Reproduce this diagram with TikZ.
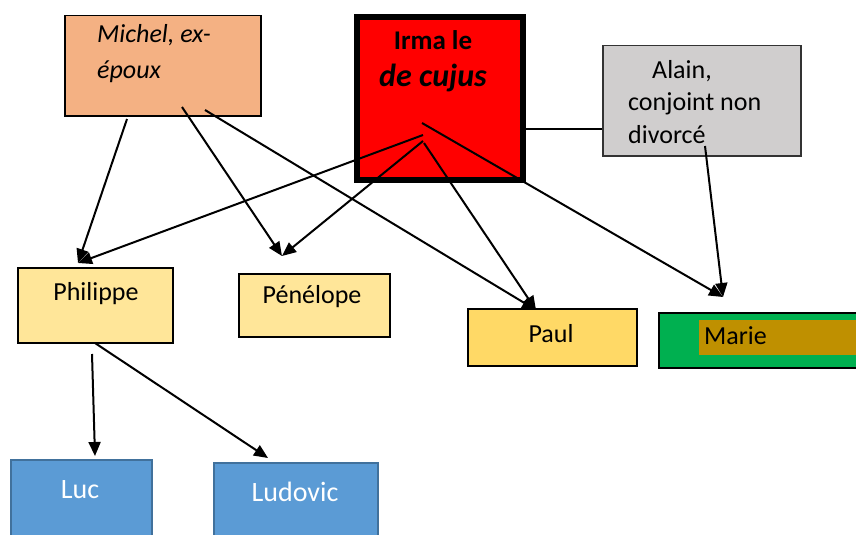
\documentclass[tikz,border=0pt]{standalone}
\usepackage{fontspec}
\setmainfont{Carlito}
\usetikzlibrary{arrows.meta}
\definecolor{cmichel}{HTML}{F4B183}
\definecolor{calain}{HTML}{D0CECE}
\definecolor{cpale}{HTML}{FFE699}
\definecolor{cpaul}{HTML}{FFD966}
\definecolor{cmarie}{HTML}{00B050}
\definecolor{chigh}{HTML}{BF9000}
\definecolor{cblue}{HTML}{5B9BD5}
\definecolor{cblueb}{HTML}{41719C}
\begin{document}
\begin{tikzpicture}[x=1pt,y=-1pt,
  box/.style={draw=black,line width=2pt,inner sep=0pt,anchor=north west},
  lbl/.style={anchor=base west,inner sep=0pt,font=\fontsize{26}{31}\selectfont},
  clbl/.style={anchor=base,inner sep=0pt,font=\fontsize{26}{31}\selectfont},
  arr/.style={line width=2pt,-{Triangle[length=14pt,width=12pt]}},
  con/.style={line width=2pt}]
\useasboundingbox (0,0) rectangle (856,535);
% boxes
\node[box,line width=1.5pt,fill=cmichel,minimum width=196pt,minimum height=100pt] (michel) at (64,15) {};
\node[box,line width=6pt,fill=red,minimum width=166pt,minimum height=163pt] (irma) at (354,14) {};
\node[box,line width=1.5pt,draw=black!80,fill=calain,minimum width=198pt,minimum height=110pt] (alain) at (602,45) {};
\node[box,fill=cpale,minimum width=155pt,minimum height=75pt] (philippe) at (17,267) {};
\node[box,fill=cpale,minimum width=151pt,minimum height=63pt] (penelope) at (238,273) {};
\node[box,fill=cpaul,minimum width=169pt,minimum height=57pt] (paul) at (467,308) {};
\node[box,fill=cmarie,minimum width=210pt,minimum height=55pt] (marie) at (658,312) {};
\node[box,line width=1.5pt,draw=cblueb,fill=cblue,minimum width=141pt,minimum height=90pt] (luc) at (10,459) {};
\node[box,line width=1.5pt,draw=cblueb,fill=cblue,minimum width=164pt,minimum height=90pt] (ludovic) at (213,462) {};
\fill[chigh] (699,320) rectangle (860,355);
% texts
\node[lbl,font=\fontsize{26}{31}\selectfont\itshape] (t1) at (97,42) {Michel, ex-};
\node[lbl,font=\fontsize{26}{31}\selectfont\itshape] (t2) at (97,78) {époux};
\node[clbl,font=\fontsize{27}{32}\selectfont\bfseries] (t3) at (433,50) {Irma le};
\node[clbl,font=\fontsize{32}{38}\selectfont\bfseries\itshape] (t4) at (433,86) {de cujus};
\node[lbl] (t5) at (652,78) {Alain,};
\node[lbl] (t6) at (628,110) {conjoint non};
\node[lbl] (t7) at (628,143) {divorcé};
\node[clbl] (t8) at (96,300) {Philippe};
\node[clbl] (t9) at (312,303) {Pénélope};
\node[clbl] (t10) at (551,342) {Paul};
\node[lbl] (t11) at (704,344) {Marie};
\node[clbl,text=white,font=\fontsize{28}{33}\selectfont] (t12) at (80,498) {Luc};
\node[clbl,text=white,font=\fontsize{28}{33}\selectfont] (t13) at (295,501) {Ludovic};
% connector points
\coordinate (m1) at (127,119);
\coordinate (m2) at (182,107);
\coordinate (m3) at (205,110);
\coordinate (i1) at (422,123);
\coordinate (i2) at (423,135);
\coordinate (i3) at (423,141);
\coordinate (i4) at (424,143);
\coordinate (a1) at (705,146);
\coordinate (p1) at (92,354);
\coordinate (p2) at (95,343);
\coordinate (phtip) at (78,263);
\coordinate (petip) at (282,256);
\coordinate (patip) at (536,310);
\coordinate (matip) at (723,297);
\coordinate (lutip) at (95,456);
\coordinate (ldtip) at (268,458);
% connectors
\draw[arr] (m1) -- (phtip);
\draw[arr] (m2) -- (petip);
\draw[arr] (m3) -- (patip);
\draw[arr] (i1) -- (matip);
\draw[arr] (i2) -- (phtip);
\draw[arr] (i3) -- (petip);
\draw[arr] (i4) -- (patip);
\draw[con] (irma.east |- 0,129) -- (alain.west |- 0,129);
\draw[arr] (a1) -- (matip);
\draw[arr] (p1) -- (lutip);
\draw[arr] (p2) -- (ldtip);
\end{tikzpicture}
\end{document}
